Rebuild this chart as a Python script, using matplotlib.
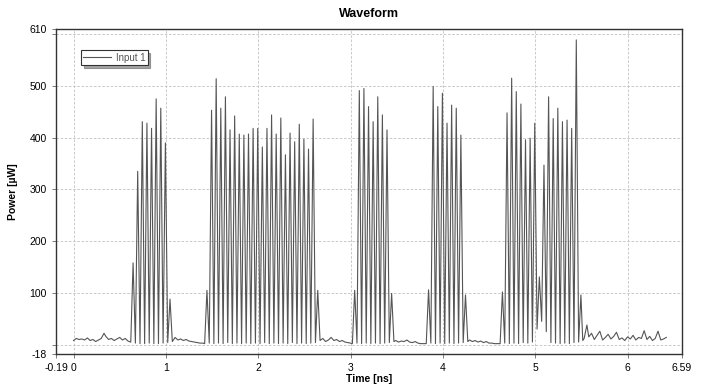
import matplotlib.pyplot as plt
import numpy as np

OUT_FILE = 'out.png'

# quiet stretch before the first burst
t_quiet0 = [0.0, 0.03, 0.06, 0.09, 0.12, 0.15, 0.18, 0.21, 0.24, 0.27, 0.30,
            0.33, 0.35, 0.38, 0.41, 0.44, 0.47, 0.50, 0.53, 0.56, 0.59, 0.62]
p_quiet0 = [8, 12, 10, 11, 9, 13, 8, 10, 6, 9, 12,
            22, 16, 10, 12, 8, 11, 14, 9, 12, 7, 5]

t_burst1 = [0.645, 0.67, 0.695, 0.72, 0.745, 0.77, 0.795, 0.82, 0.845, 0.87,
            0.895, 0.92, 0.945, 0.97, 0.995, 1.02, 1.045, 1.07]
p_burst1 = [158, 3, 335, 2, 431, 2, 428, 3, 418, 2,
            475, 2, 457, 3, 390, 4, 88, 6]

t_quiet1 = [1.10, 1.13, 1.16, 1.19, 1.22, 1.25, 1.28, 1.31, 1.34, 1.37, 1.40, 1.42]
p_quiet1 = [14, 9, 11, 8, 10, 7, 6, 5, 4, 3, 3, 2]

t_burst2 = [1.445, 1.47, 1.495, 1.52, 1.545, 1.57, 1.595, 1.62, 1.645, 1.67,
            1.695, 1.72, 1.745, 1.77, 1.795, 1.82, 1.845, 1.87, 1.895, 1.92,
            1.945, 1.97, 1.995, 2.02, 2.045, 2.07, 2.095, 2.12, 2.145, 2.17,
            2.195, 2.22, 2.245, 2.27, 2.295, 2.32, 2.345, 2.37, 2.395, 2.42,
            2.445, 2.47, 2.495, 2.52, 2.545, 2.57, 2.595, 2.62, 2.645, 2.67]
p_burst2 = [105, 3, 453, 2, 514, 3, 457, 2, 479, 4,
            415, 2, 442, 3, 407, 2, 405, 3, 407, 2,
            418, 3, 418, 2, 382, 4, 418, 2, 444, 3,
            407, 2, 438, 3, 367, 2, 409, 4, 392, 2,
            426, 3, 397, 2, 378, 3, 436, 4, 105, 8]

t_quiet2 = [2.70, 2.73, 2.76, 2.79, 2.82, 2.85, 2.88, 2.91, 2.94, 2.97, 3.00, 3.02]
p_quiet2 = [12, 6, 9, 14, 8, 10, 6, 8, 5, 4, 3, 2]

t_burst3 = [3.045, 3.07, 3.095, 3.12, 3.145, 3.17, 3.195, 3.22, 3.245, 3.27,
            3.295, 3.32, 3.345, 3.37, 3.395, 3.42, 3.445, 3.47]
p_burst3 = [105, 3, 491, 2, 495, 3, 460, 2, 431, 3,
            479, 2, 444, 3, 415, 4, 99, 6]

t_quiet3 = [3.49, 3.52, 3.55, 3.58, 3.61, 3.64, 3.67, 3.70, 3.73, 3.76, 3.79, 3.82]
p_quiet3 = [8, 5, 7, 6, 9, 5, 4, 6, 3, 2, 2, 2]

t_burst4 = [3.845, 3.87, 3.895, 3.92, 3.945, 3.97, 3.995, 4.02, 4.045, 4.07,
            4.095, 4.12, 4.145, 4.17, 4.195, 4.22, 4.245, 4.27]
p_burst4 = [106, 3, 499, 2, 460, 3, 486, 2, 428, 3,
            463, 2, 457, 3, 405, 4, 96, 6]

t_quiet4 = [4.29, 4.32, 4.35, 4.38, 4.41, 4.44, 4.47, 4.50, 4.53, 4.56, 4.59, 4.62]
p_quiet4 = [9, 6, 8, 5, 7, 4, 6, 3, 3, 2, 2, 2]

t_burst5 = [4.645, 4.67, 4.695, 4.72, 4.745, 4.77, 4.795, 4.82, 4.845, 4.87,
            4.895, 4.92, 4.945, 4.97, 4.995, 5.02, 5.045, 5.07, 5.095, 5.12,
            5.145, 5.17, 5.195, 5.22, 5.245, 5.27, 5.295, 5.32, 5.345, 5.37,
            5.395, 5.42, 5.445, 5.47, 5.495, 5.515]
p_burst5 = [102, 3, 448, 2, 515, 3, 489, 2, 465, 4,
            396, 3, 399, 5, 428, 30, 131, 45, 347, 25,
            479, 4, 437, 3, 457, 2, 431, 3, 434, 2,
            418, 4, 589, 5, 96, 8]

# noisy tail after the last burst
t_quiet5 = [5.53, 5.56, 5.58, 5.61, 5.64, 5.67, 5.70, 5.73, 5.76, 5.79, 5.82,
            5.85, 5.88, 5.91, 5.94, 5.97, 6.00, 6.03, 6.06, 6.09, 6.12, 6.15,
            6.18, 6.21, 6.24, 6.27, 6.30, 6.33, 6.36, 6.39, 6.42]
p_quiet5 = [12, 38, 15, 22, 10, 18, 26, 9, 14, 20, 11,
            16, 24, 10, 13, 8, 15, 11, 18, 9, 14, 12,
            27, 10, 16, 8, 12, 26, 9, 11, 14]

x_grid = [0, 1, 2, 3, 4, 5, 6]
y_grid = [0, 100, 200, 300, 400, 500, 600]
x_labels = ['0', '1', '2', '3', '4', '5', '6']
y_labels = ['', '100', '200', '300', '400', '500', '']
x_min, x_max = -0.19, 6.59
y_min, y_max = -18, 610


def generate_graphic():
    plt.rcParams['font.family'] = ['Liberation Sans Narrow', 'Liberation Sans', 'DejaVu Sans']

    time = np.concatenate([t_quiet0, t_burst1, t_quiet1, t_burst2, t_quiet2,
                           t_burst3, t_quiet3, t_burst4, t_quiet4, t_burst5, t_quiet5])
    power = np.concatenate([p_quiet0, p_burst1, p_quiet1, p_burst2, p_quiet2,
                            p_burst3, p_quiet3, p_burst4, p_quiet4, p_burst5, p_quiet5])

    fig = plt.figure(figsize=(7.05, 3.92), dpi=100)
    ax = fig.add_axes([0.0794, 0.097, 0.888, 0.829])
    ax.plot(time, power, color='#555555', linewidth=0.8, label='Input 1')

    ax.set_xlim(x_min, x_max)
    ax.set_ylim(y_min, y_max)

    ax.set_xticks(x_grid)
    ax.set_xticklabels(x_labels)
    ax.set_xticks([x_min, x_max], minor=True)
    ax.set_xticklabels([f'{x_min:g}', f'{x_max:g}'], minor=True)
    ax.set_yticks(y_grid)
    ax.set_yticklabels(y_labels)
    ax.set_yticks([y_min, y_max], minor=True)
    ax.set_yticklabels([f'{y_min:g}', f'{y_max:g}'], minor=True)
    ax.tick_params(which='both', labelsize=7.5, length=3, width=0.6, color='#666666')

    ax.grid(True, which='major', linestyle=(0, (3, 2)), color='#c0c0c0', linewidth=0.6)
    for side in ax.spines.values():
        side.set_color('#333333')
        side.set_linewidth(1.0)

    ax.set_title('Waveform', fontsize=9, fontweight='bold', pad=9)
    ax.set_xlabel('Time [ns]', fontsize=7.5, fontweight='bold', labelpad=1)
    ax.set_ylabel('Power [\u00b5W]', fontsize=7.5, fontweight='bold', labelpad=8)

    leg = ax.legend(loc='upper left', bbox_to_anchor=(0.04, 0.935), fontsize=7,
                    fancybox=False, shadow=True, framealpha=1, borderpad=0.25,
                    handlelength=2.8, handletextpad=0.5, borderaxespad=0)
    leg.get_frame().set_edgecolor('#333333')
    leg.get_frame().set_linewidth(0.8)
    for text in leg.get_texts():
        text.set_color('#555555')

    fig.savefig(OUT_FILE)
    plt.close(fig)


if __name__ == "__main__":
    generate_graphic()
